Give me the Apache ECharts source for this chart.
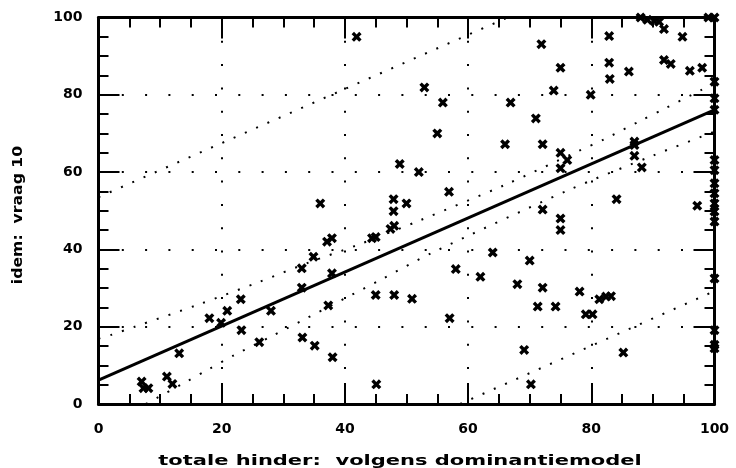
<!DOCTYPE html>
<html>
<head>
<meta charset="utf-8">
<script src="https://cdn.jsdelivr.net/npm/echarts@6/dist/echarts.min.js"></script>
<style>
html,body{margin:0;padding:0;background:#fff;}
#chart{width:736px;height:468px;}
</style>
</head>
<body>
<div id="chart"></div>
<script>
// Scatter points
const pointX = [7.0, 7.3, 8.1, 11.1, 12.0, 13.1,
  18.0, 19.9, 20.9, 23.1, 23.2, 26.1, 28.0,
  33.0, 33.0, 33.1, 34.9, 35.1, 36.0, 37.1, 37.9, 37.9, 37.3, 38.0,
  41.9, 44.4, 45.0, 45.0, 45.1, 47.4, 48.0, 47.9, 47.9, 48.0, 48.9, 50.0, 50.9,
  52.0, 52.9, 55.0, 55.9, 56.9, 57.0, 58.0, 62.0, 64.0,
  66.0, 66.9, 68.0, 69.1, 70.0, 70.2, 71.0, 71.3, 71.9, 72.1, 72.1, 72.1,
  73.9, 74.2, 75.0, 75.0, 76.1, 75.0, 75.0, 75.0, 78.1, 79.1, 80.2, 79.9, 81.3, 82.4, 83.2,
  82.9, 82.9, 83.0, 84.1, 85.2, 86.1, 87.0, 87.0, 87.0, 88.2,
  88.0, 89.1, 90.2, 91.0, 91.8, 91.8, 92.9, 94.8, 96.0, 97.2, 98.0, 99.0,
  100, 100, 100, 100, 100, 100, 100, 100, 100, 100, 100, 100, 100, 100, 100];
const pointY = [5.8, 4.1, 4.1, 7.1, 5.2, 13.1,
  22.2, 21.0, 24.1, 27.1, 19.1, 16.0, 24.1,
  35.1, 30.1, 17.2, 38.1, 15.1, 51.9, 42.0, 42.9, 33.8, 25.5, 12.1,
  95.0, 42.9, 43.2, 28.2, 5.1, 45.3, 46.1, 53.0, 49.9, 28.2, 62.1, 51.9, 27.2,
  60.0, 81.9, 70.0, 78.0, 54.9, 22.2, 34.9, 32.9, 39.2,
  67.2, 78.0, 31.0, 14.0, 37.1, 5.1, 73.9, 25.2, 93.1, 67.2, 50.3, 30.1,
  81.1, 25.2, 87.0, 65.0, 63.1, 61.0, 48.0, 45.0, 29.1, 23.2, 23.2, 80.0, 27.1, 27.8, 27.9,
  95.2, 88.3, 84.1, 53.0, 13.3, 86.0, 67.9, 67.0, 64.2, 61.2,
  100, 99.4, 99.1, 98.9, 97.0, 89.0, 88.0, 95.0, 86.2, 51.3, 87.0, 100,
  100, 83.4, 79.1, 76.1, 63.1, 60.5, 57.1, 54.5, 51.9, 49.8, 47.2, 32.5, 19.1, 15.3, 14.4];

// Regression line and bands
const regX = [0, 100];
const regY = [6.2, 76.1];
const outerUpperX = [0, 66.4];
const outerUpperY = [53.5, 100];
const outerLowerX = [58.7, 100];
const outerLowerY = [0, 29.2];
const innerUpperX = [0, 2.1, 5.9, 16, 26.1, 34.1, 42, 52, 66, 78, 82.1, 88, 92, 97.8, 100];
const innerUpperY = [16.9, 17.9, 20.0, 25.6, 31.6, 36.6, 41.1, 47.4, 56.7, 65.5, 68.5, 73.3, 76.5, 81.2, 83.0];
const innerLowerX = [7.7, 14.3, 18, 22.1, 28.2, 46, 54, 76.1, 90.2, 98.1, 100];
const innerLowerY = [0, 5.8, 9.1, 12.7, 17.6, 32.3, 39.0, 55.2, 64.4, 69.3, 70.5];

const xTickValues = [0, 20, 40, 60, 80, 100];
const yTickValues = [0, 20, 40, 60, 80, 100];
const xName = 'totale hinder:  volgens dominantiemodel';
const yName = 'idem:  vraag 10';

const zip = (a, b) => a.map((v, i) => [v, b[i]]);

const FONT = 'DejaVu Sans';
const black = '#000';

function axisBase(pos, showLabels, showSplit) {
  return {
    type: 'value', min: 0, max: 100, interval: 20, position: pos,
    axisLine: { show: true, onZero: false, lineStyle: { color: black, width: 3 } },
    axisTick: { show: true, inside: true, length: 21, lineStyle: { color: black, width: 2 } },
    minorTick: { show: true, splitNumber: 4, length: 10, lineStyle: { color: black, width: 2 } },
    axisLabel: { show: showLabels, color: black, fontFamily: FONT, fontWeight: 'bold', fontSize: 14 },
    splitLine: { show: showSplit, lineStyle: { color: black, width: 2, type: [2, 21.3] } },
    minorSplitLine: { show: false }
  };
}

const xBottom = axisBase('bottom', true, true);
xBottom.axisLabel.margin = 18;
xBottom.axisLabel.formatter = v => (xTickValues.indexOf(v) >= 0 ? String(v) : '');

const xTop = axisBase('top', false, false);

const yLeft = axisBase('left', true, true);
yLeft.axisLabel.margin = 16;
yLeft.axisLabel.formatter = v => (yTickValues.indexOf(v) >= 0 ? String(v) : '');

const yRight = axisBase('right', false, false);

const xSymbol = 'path://M0,2.4 L2.4,0 L5,2.6 L7.6,0 L10,2.4 L7.4,5 L10,7.6 L7.6,10 L5,7.4 L2.4,10 L0,7.6 L2.6,5 Z';

function bandSeries(xs, ys, smooth) {
  return {
    type: 'line', data: zip(xs, ys), symbol: 'none', showSymbol: false, silent: true,
    smooth: smooth, clip: true, xAxisIndex: 0, yAxisIndex: 0, z: 2,
    lineStyle: { color: black, width: 2, type: [2, 10.3] }
  };
}

const nameFont = 'bold 14px "DejaVu Sans"';

const chart = echarts.init(document.getElementById('chart'), null, { renderer: 'canvas' });
chart.setOption({
  animation: false,
  backgroundColor: '#fff',
  grid: { left: 98.5, right: 21.5, top: 17.5, bottom: 64, containLabel: false },
  xAxis: [xBottom, xTop],
  yAxis: [yLeft, yRight],
  graphic: [
    { type: 'text', x: 400, y: 461, scaleX: 1.5, silent: true,
      style: { text: xName, font: nameFont, fill: black, textAlign: 'center', textVerticalAlign: 'middle' } },
    { type: 'text', x: 18, y: 215, rotation: Math.PI / 2, scaleX: 1.12, silent: true,
      style: { text: yName, font: nameFont, fill: black, textAlign: 'center', textVerticalAlign: 'middle' } }
  ],
  series: [
    bandSeries(outerUpperX, outerUpperY, false),
    bandSeries(outerLowerX, outerLowerY, false),
    bandSeries(innerUpperX, innerUpperY, 0.3),
    bandSeries(innerLowerX, innerLowerY, 0.3),
    {
      type: 'line', data: zip(regX, regY), symbol: 'none', showSymbol: false, silent: true,
      xAxisIndex: 0, yAxisIndex: 0, z: 3,
      lineStyle: { color: black, width: 3 }
    },
    {
      type: 'scatter', data: zip(pointX, pointY), symbol: xSymbol, symbolSize: 10,
      xAxisIndex: 0, yAxisIndex: 0, z: 4, clip: false,
      itemStyle: { color: black, opacity: 1 }
    }
  ]
});
</script>
</body>
</html>
